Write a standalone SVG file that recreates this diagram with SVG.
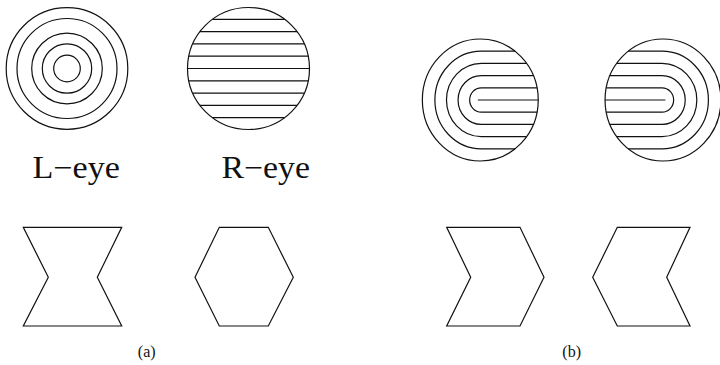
<svg xmlns="http://www.w3.org/2000/svg" width="720" height="365" viewBox="0 0 720 365">
<style>
.s{fill:none;stroke:#111;stroke-width:1.2;vector-effect:non-scaling-stroke}
.lbl{font-family:"Liberation Serif","Times New Roman",serif;font-size:31px;fill:#111}
.cap{font-family:"Liberation Serif","Times New Roman",serif;font-size:16px;fill:#111;text-anchor:middle}
</style>
<defs>
<g id="upat">
<circle class="s" cx="0" cy="0" r="61"/>
<path class="s" d="M-2.5,0 L61,0"/>
<path class="s" d="M59.77,-12.2 L1,-12.2 A12.2 12.2 0 0 0 1,12.2 L59.77,12.2"/>
<path class="s" d="M55.91,-24.4 L1,-24.4 A24.4 24.4 0 0 0 1,24.4 L55.91,24.4"/>
<path class="s" d="M48.8,-36.6 L1,-36.6 A36.6 36.6 0 0 0 1,36.6 L48.8,36.6"/>
<path class="s" d="M36.6,-48.8 L1,-48.8 A48.8 48.8 0 0 0 1,48.8 L36.6,48.8"/>
</g>
</defs>
<rect width="720" height="365" fill="#fff"/>

<g id="l-eye-circles">
<circle class="s" cx="67" cy="68.5" r="60.8"/>
<circle class="s" cx="67" cy="68.5" r="50"/>
<circle class="s" cx="67" cy="68.5" r="35.3"/>
<circle class="s" cx="67" cy="68.5" r="24.7"/>
<circle class="s" cx="67" cy="68.5" r="13.3"/>
</g>

<g id="r-eye-lines" transform="translate(248.5,68.5)">
<circle class="s" cx="0" cy="0" r="61"/>
<path class="s" d="M-61,0H61 M-59.75,-12.3H59.75 M-59.75,12.3H59.75 M-55.82,-24.6H55.82 M-55.82,24.6H55.82 M-48.57,-36.9H48.57 M-48.57,36.9H48.57 M-36.06,-49.2H36.06 M-36.06,49.2H36.06"/>
</g>

<g id="label-l-eye"><text class="lbl" x="32.5" y="177.7" textLength="87.5" lengthAdjust="spacingAndGlyphs">L−eye</text></g>
<g id="label-r-eye"><text class="lbl" x="221.5" y="177.7" textLength="88.5" lengthAdjust="spacingAndGlyphs">R−eye</text></g>

<g id="b-left-circle" transform="translate(480.3,100) scale(0.95,1)"><use href="#upat"/></g>
<g id="b-right-circle" transform="translate(663,100) scale(-0.95,1)"><use href="#upat"/></g>

<g id="bowtie"><polygon class="s" points="23.3,227.3 121.7,227.3 97.3,277.3 121.7,326 23.3,326 48.3,277.3"/></g>
<g id="hexagon"><polygon class="s" points="219.3,227.3 268.3,227.3 293.3,277.3 268.3,326 219.3,326 195,277.3"/></g>
<g id="chevron-right"><polygon class="s" points="446.7,227.3 520,227.3 544,277.3 520,326 446.7,326 470.7,277.3"/></g>
<g id="chevron-left"><polygon class="s" points="617.3,227.3 690,227.3 666.7,277.3 690,326 617.3,326 592.7,277.3"/></g>

<g id="caption-a"><text class="cap" x="146.7" y="357">(a)</text></g>
<g id="caption-b"><text class="cap" x="571.7" y="357">(b)</text></g>
</svg>
